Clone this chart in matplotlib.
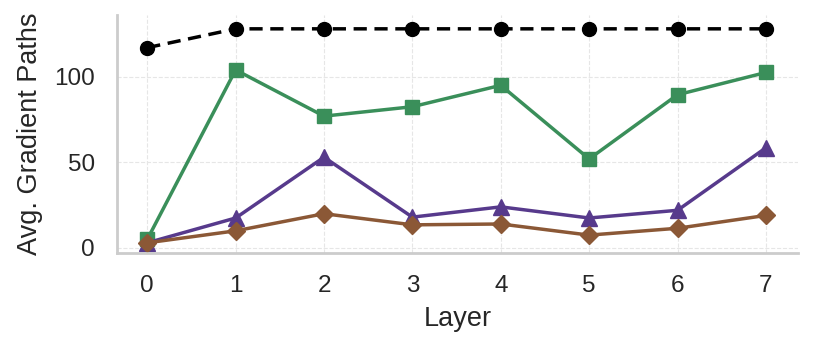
import matplotlib.pyplot as plt
import matplotlib as mpl

mpl.rcParams['font.family'] = ['Liberation Sans', 'DejaVu Sans']

layers = [0, 1, 2, 3, 4, 5, 6, 7]
total_paths = [117, 128, 128, 128, 128, 128, 128, 128]
green_vals = [5, 104, 77, 82.5, 95, 52, 89.5, 102.5]
purple_vals = [3, 17.5, 53, 18, 24, 17.5, 22, 58.5]
brown_vals = [3, 10, 20, 13.5, 14, 7.5, 11.5, 19]

fig, ax = plt.subplots(figsize=(8.14, 3.52), dpi=100)

ax.plot(layers, total_paths, color='black', ls='--', lw=2.5, marker='o', ms=10, dashes=(3.8, 2.2))
ax.plot(layers, green_vals, color='#3a8f5a', lw=2.5, marker='s', ms=10)
ax.plot(layers, purple_vals, color='#573a8c', lw=2.5, marker='^', ms=11)
ax.plot(layers, brown_vals, color='#8b5836', lw=2.5, marker='D', ms=9.5)

ax.set_xlim(-0.34, 7.36)
ax.set_ylim(-3, 136)
ax.set_xticks(layers)
ax.set_yticks([0, 50, 100])
ax.grid(True, ls='--', color='#e6e6e6', lw=0.8)
ax.set_axisbelow(True)
for s in ['top', 'right']:
    ax.spines[s].set_visible(False)
for s in ['left', 'bottom']:
    ax.spines[s].set_color('#cccccc')
    ax.spines[s].set_linewidth(2)
ax.tick_params(length=0, labelsize=17.5, colors='#262626', pad=16)
ax.set_xlabel('Layer', fontsize=19.5, color='#262626', labelpad=6)
ax.set_ylabel('Avg. Gradient Paths', fontsize=19.5, color='#262626', labelpad=8)

fig.subplots_adjust(left=0.144, right=0.98, top=0.957, bottom=0.281)
fig.savefig('out.png')
